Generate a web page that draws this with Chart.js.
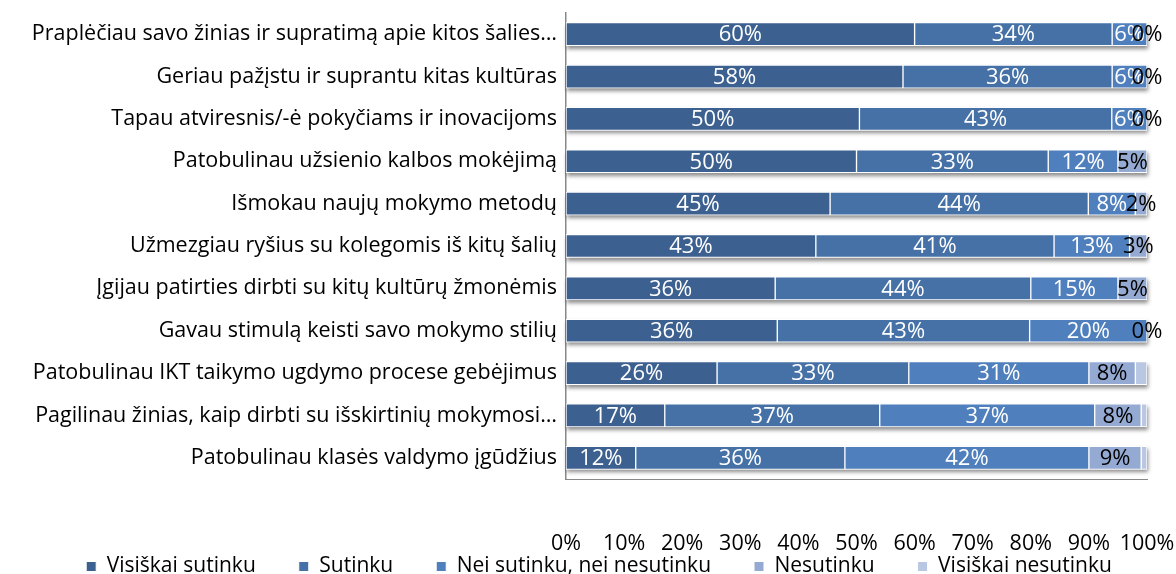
<!DOCTYPE html>
<html>
<head>
<meta charset="utf-8">
<script src="https://cdn.jsdelivr.net/npm/chart.js@4.4.0/dist/chart.umd.min.js"></script>
<style>
  html, body { margin: 0; padding: 0; background: #fff; }
  #wrap { width: 1176px; height: 574px; }
</style>
</head>
<body>
<div id="wrap"><canvas id="chart"></canvas></div>
<script>
const categories = [
  "Praplėčiau savo žinias ir supratimą apie kitos šalies…",
  "Geriau pažįstu ir suprantu kitas kultūras",
  "Tapau atviresnis/-ė pokyčiams ir inovacijoms",
  "Patobulinau užsienio kalbos mokėjimą",
  "Išmokau naujų mokymo metodų",
  "Užmezgiau ryšius su kolegomis iš kitų šalių",
  "Įgijau patirties dirbti su kitų kultūrų žmonėmis",
  "Gavau stimulą keisti savo mokymo stilių",
  "Patobulinau IKT taikymo ugdymo procese gebėjimus",
  "Pagilinau žinias, kaip dirbti su išskirtinių mokymosi…",
  "Patobulinau klasės valdymo įgūdžius"
];
const seriesNames = ["Visiškai sutinku", "Sutinku", "Nei sutinku, nei nesutinku", "Nesutinku", "Visiškai nesutinku"];
const visiskaiSutinku   = [60, 58, 50, 50, 45, 43, 36, 36, 26, 17, 12];
const sutinku           = [34, 36, 43, 33, 44, 41, 44, 43, 33, 37, 36];
const neiNei            = [6, 6, 6, 12, 8, 13, 15, 20, 31, 37, 42];
const nesutinku         = [0, 0, 0, 5, 2, 3, 5, 0, 8, 8, 9];
const visiskaiNesutinku = [0, 0, 0, 0, 0, 0, 0, 0, 2, 1, 1];

const colors = ["#3c6190", "#4571a6", "#4f7fbc", "#95aad2", "#b9c7e3"];
const labelColors = ["#fff", "#fff", "#fff", "#000", null];
const FONT = "'Open Sans', Lato, sans-serif";

const raw = [visiskaiSutinku, sutinku, neiNei, nesutinku, visiskaiNesutinku];
// 100% stacked: every row is scaled to its own total
const totals = categories.map((c, i) => raw.reduce((s, arr) => s + arr[i], 0));

const datasets = raw.map((arr, k) => ({
  label: seriesNames[k],
  data: arr.map((v, i) => v / totals[i] * 100),
  raw: arr,
  backgroundColor: colors[k],
  borderColor: "#ffffff",
  borderWidth: 1,
  borderSkipped: false,
  barThickness: 23
}));

const barDecor = {
  id: "barDecor",
  afterLayout(chart) {
    // legend sits lower and a bit right of where the layout puts it
    const lg = chart.legend;
    const h = lg.height;
    lg.top = 513;
    lg.bottom = lg.top + h;
    lg.left += 16;
    lg.right += 16;
  },
  beforeDatasetsDraw(chart) {
    const ctx = chart.ctx;
    const n = chart.data.datasets.length;
    const first = chart.getDatasetMeta(0).data;
    const last = chart.getDatasetMeta(n - 1).data;
    ctx.save();
    ctx.shadowColor = "rgba(0,0,0,0.45)";
    ctx.shadowBlur = 4;
    ctx.shadowOffsetX = 1;
    ctx.shadowOffsetY = 3;
    ctx.fillStyle = "#fff";
    first.forEach((bar, i) => {
      const h = bar.height;
      ctx.fillRect(bar.base, bar.y - h / 2, last[i].x - bar.base, h);
    });
    ctx.restore();
  },
  afterDatasetsDraw(chart) {
    const ctx = chart.ctx;
    ctx.save();
    ctx.font = "22px " + FONT;
    ctx.textAlign = "center";
    ctx.textBaseline = "middle";
    chart.data.datasets.forEach((ds, k) => {
      if (!labelColors[k]) return;
      ctx.fillStyle = labelColors[k];
      chart.getDatasetMeta(k).data.forEach((bar, i) => {
        ctx.fillText(ds.raw[i] + "%", (bar.x + bar.base) / 2, bar.y + 1);
      });
    });
    ctx.restore();
  }
};

new Chart(document.getElementById("chart"), {
  type: "bar",
  data: { labels: categories, datasets: datasets },
  plugins: [barDecor],
  options: {
    indexAxis: "y",
    responsive: true,
    maintainAspectRatio: false,
    animation: false,
    layout: { padding: { left: 0, right: 10, top: 13, bottom: -74 } },
    scales: {
      x: {
        stacked: true,
        min: 0,
        max: 100,
        afterFit(scale) {
          scale.height = 95;
          scale.paddingRight = 29;
          scale.paddingLeft = 0;
        },
        grid: { display: false, drawTicks: false },
        border: { display: true, color: "#888888", width: 1 },
        ticks: {
          stepSize: 10,
          autoSkip: false,
          maxRotation: 0,
          minRotation: 0,
          padding: 52,
          color: "#000",
          font: { family: FONT, size: 21.5 },
          callback: v => v + "%"
        }
      },
      y: {
        stacked: true,
        afterFit(scale) {
          scale.width = 566;
          scale.paddingTop = 0;
          scale.paddingBottom = 0;
        },
        grid: { display: false, drawTicks: false },
        border: { display: true, color: "#888888", width: 1.5 },
        ticks: {
          padding: 9,
          color: "#000",
          font: { family: FONT, size: 21.5 }
        }
      }
    },
    plugins: {
      legend: {
        position: "bottom",
        labels: {
          boxWidth: 10,
          boxHeight: 10,
          padding: 43,
          color: "#000",
          font: { family: FONT, size: 21 }
        }
      },
      tooltip: { enabled: false }
    }
  }
});
</script>
</body>
</html>
